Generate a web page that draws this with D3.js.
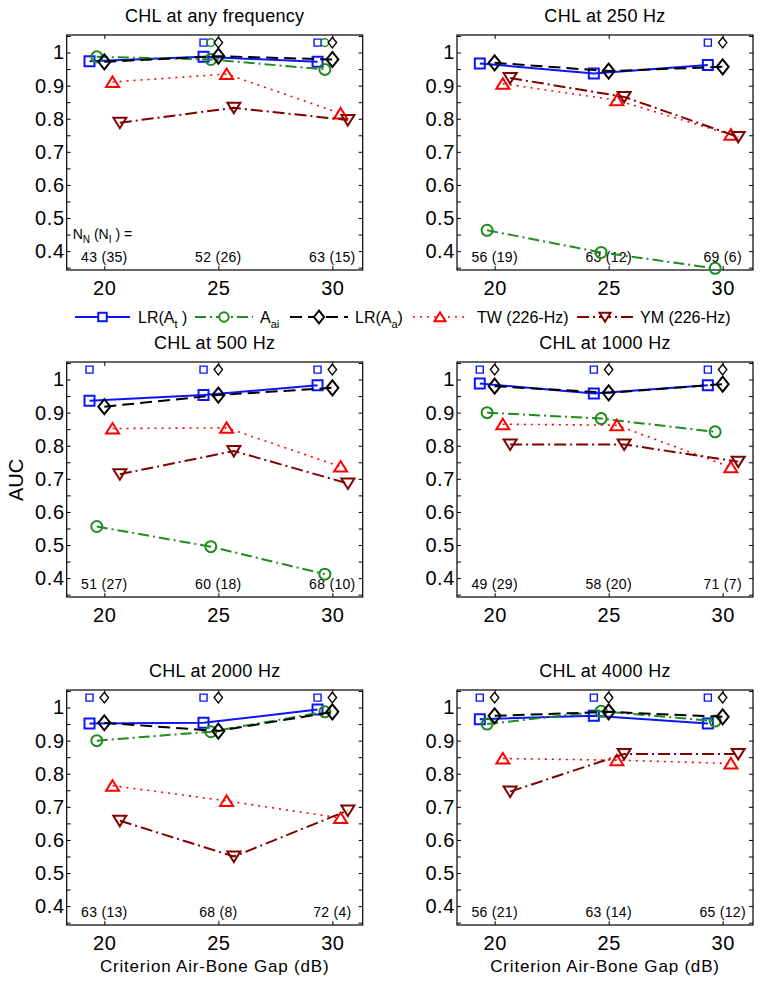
<!DOCTYPE html>
<html>
<head>
<meta charset="utf-8">
<script src="https://cdn.jsdelivr.net/npm/d3@7"></script>
<style>
  body { margin: 0; background: #fff; }
  text { font-family: Arial, "Liberation Sans", Helvetica, sans-serif; fill: #000; }
</style>
</head>
<body>
<svg id="chart" width="762" height="983"></svg>
<script>
// ---- data ----
var criteria = [20, 25, 30];
var panelTitles = ["CHL at any frequency", "CHL at 250 Hz", "CHL at 500 Hz",
                   "CHL at 1000 Hz", "CHL at 2000 Hz", "CHL at 4000 Hz"];

// one row per panel, values at 20, 25, 30 dB
var lrAtValues = [
  [0.974, 0.987, 0.972],
  [0.967, 0.937, 0.962],
  [0.936, 0.953, 0.983],
  [0.988, 0.958, 0.983],
  [0.952, 0.954, 0.994],
  [0.965, 0.975, 0.952]
];
var aaiValues = [
  [0.987, 0.979, 0.949],
  [0.463, 0.396, 0.348],
  [0.556, 0.495, 0.412],
  [0.900, 0.882, 0.842],
  [0.900, 0.927, 0.987],
  [0.950, 0.989, 0.959]
];
var lrAaValues = [
  [0.972, 0.989, 0.979],
  [0.969, 0.944, 0.957],
  [0.918, 0.953, 0.975],
  [0.980, 0.960, 0.986],
  [0.954, 0.929, 0.987],
  [0.975, 0.987, 0.972]
];
var twValues = [
  [0.911, 0.935, 0.816],
  [0.906, 0.856, 0.752],
  [0.852, 0.854, 0.737],
  [0.865, 0.862, 0.735],
  [0.764, 0.718, 0.666],
  [0.846, 0.841, 0.831]
];
var ymValues = [
  [0.788, 0.833, 0.796],
  [0.923, 0.866, 0.745],
  [0.714, 0.784, 0.686],
  [0.804, 0.804, 0.752],
  [0.658, 0.550, 0.689],
  [0.746, 0.860, 0.860]
];

// criteria at which the small markers are drawn above the curves
var sigLrAt = [[25, 30], [30], [20, 25, 30], [20, 25, 30], [20, 25, 30], [20, 25, 30]];
var sigAai  = [[25, 30], [], [], [], [], []];
var sigLrAa = [[25, 30], [30], [25, 30], [20, 25, 30], [20, 25, 30], [20, 25, 30]];
var sigLevel = 1.03;

var countLabels = [
  ["43 (35)", "52 (26)", "63 (15)"],
  ["56 (19)", "63 (12)", "69 (6)"],
  ["51 (27)", "60 (18)", "68 (10)"],
  ["49 (29)", "58 (20)", "71 (7)"],
  ["63 (13)", "68 (8)", "72 (4)"],
  ["56 (21)", "63 (14)", "65 (12)"]
];

var yTicks = [0.35, 0.4, 0.45, 0.5, 0.55, 0.6, 0.65, 0.7, 0.75, 0.8, 0.85, 0.9, 0.95, 1, 1.05];
var yLabels = [0.4, 0.5, 0.6, 0.7, 0.8, 0.9, 1];

// ---- layout ----
var colLeft = [66.7, 457];
var rowTop = [35, 362, 690];
var plotW = 296, plotH = 235;

var svg = d3.select("#chart");

var x = d3.scaleLinear().domain([18.35, 31.33]).range([0, plotW]);
var y = d3.scaleLinear().domain([0.343, 1.053]).range([plotH, 0]);

/* marker shapes */
function markerPath(kind, k) {
  k = k || 1;
  if (kind === "square") { var s = 5 * k; return "M" + -s + "," + -s + "h" + 2 * s + "v" + 2 * s + "h" + -2 * s + "Z"; }
  if (kind === "circle") { var r = 5.5 * k; return "M" + -r + ",0a" + r + "," + r + " 0 1,0 " + 2 * r + ",0a" + r + "," + r + " 0 1,0 " + -2 * r + ",0Z"; }
  if (kind === "diamond") { return "M0," + -7.5 * k + "L" + 6 * k + ",0L0," + 7.5 * k + "L" + -6 * k + ",0Z"; }
  if (kind === "up") { return "M0," + -5.5 * k + "L" + 6.5 * k + "," + 5 * k + "L" + -6.5 * k + "," + 5 * k + "Z"; }
  if (kind === "down") { return "M0," + 5.5 * k + "L" + 6.5 * k + "," + -5 * k + "L" + -6.5 * k + "," + -5 * k + "Z"; }
}

var series = [
  { values: lrAtValues, sig: sigLrAt, offset: -0.65, color: "#0a14ff", dash: null,          width: 2,   marker: "square" },
  { values: aaiValues,  sig: sigAai,  offset: -0.33, color: "#1e8c1e", dash: "11,4,2,4",    width: 2,   marker: "circle" },
  { values: lrAaValues, sig: sigLrAa, offset: 0,     color: "#000000", dash: "12,6",        width: 2,   marker: "diamond" },
  { values: twValues,   sig: null,    offset: 0.36,  color: "#ff0000", dash: "2,5",         width: 1.6, marker: "up" },
  { values: ymValues,   sig: null,    offset: 0.68,  color: "#800000", dash: "12,4,2,4",    width: 2,   marker: "down" }
];

var line = d3.line()
  .x(function (d) { return x(d.c); })
  .y(function (d) { return y(d.v); });

panelTitles.forEach(function (title, i) {
  var col = i % 2, row = Math.floor(i / 2);
  var g = svg.append("g").attr("transform", "translate(" + colLeft[col] + "," + rowTop[row] + ")");

  g.append("text")
    .attr("x", plotW / 2).attr("y", -13)
    .attr("text-anchor", "middle")
    .style("font-size", "18px")
    .style("letter-spacing", "0.3px")
    .text(title);

  /* axes */
  var fmt = d3.format("~g");
  g.append("g").attr("transform", "translate(0," + plotH + ")")
    .call(d3.axisBottom(x).tickValues(criteria).tickSize(-4).tickPadding(11))
    .call(function (a) {
      a.select(".domain").remove();
      a.selectAll("text").style("font-size", "20px").style("letter-spacing", "0.6px");
    });
  g.append("g")
    .call(d3.axisTop(x).tickValues(criteria).tickSize(-4).tickFormat(""))
    .call(function (a) { a.select(".domain").remove(); });
  g.append("g")
    .call(d3.axisLeft(y).tickValues(yTicks).tickSize(-4).tickPadding(2)
      .tickFormat(function (d) { return yLabels.indexOf(d) >= 0 ? fmt(d) : ""; }))
    .call(function (a) {
      a.select(".domain").remove();
      a.selectAll("text").style("font-size", "20px").style("letter-spacing", "0.6px");
    });
  g.append("g").attr("transform", "translate(" + plotW + ",0)")
    .call(d3.axisRight(y).tickValues(yTicks).tickSize(-4).tickFormat(""))
    .call(function (a) { a.select(".domain").remove(); });

  g.append("rect")
    .attr("width", plotW).attr("height", plotH)
    .attr("fill", "none").attr("stroke", "#000").attr("stroke-width", 1.2);

  /* count labels */
  g.selectAll(".count")
    .data(countLabels[i])
    .enter().append("text")
    .attr("class", "count")
    .attr("x", function (d, j) { return x(criteria[j]); })
    .attr("y", plotH - 8)
    .attr("text-anchor", "middle")
    .style("font-size", "14px")
    .style("letter-spacing", "0.3px")
    .text(function (d) { return d; });

  if (i === 0) {
    var nt = g.append("text").attr("x", 6).attr("y", plotH - 31).style("font-size", "14px");
    nt.append("tspan").text("N");
    nt.append("tspan").attr("dy", 4).style("font-size", "10px").text("N");
    nt.append("tspan").attr("dy", -4).text(" (N");
    nt.append("tspan").attr("dy", 4).style("font-size", "10px").text("I");
    nt.append("tspan").attr("dy", -4).text(" ) =");
  }

  /* series */
  series.forEach(function (s) {
    var pts = s.values[i].map(function (v, j) { return { c: criteria[j] + s.offset, v: v }; });
    g.append("path")
      .datum(pts)
      .attr("d", line)
      .attr("fill", "none")
      .attr("stroke", s.color)
      .attr("stroke-width", s.width)
      .attr("stroke-dasharray", s.dash);
    g.selectAll(null)
      .data(pts)
      .enter().append("path")
      .attr("transform", function (d) { return "translate(" + x(d.c) + "," + y(d.v) + ")"; })
      .attr("d", markerPath(s.marker))
      .attr("fill", "none")
      .attr("stroke", s.color)
      .attr("stroke-width", 2);
    if (s.sig) {
      g.selectAll(null)
        .data(s.sig[i])
        .enter().append("path")
        .attr("transform", function (c) { return "translate(" + x(c + s.offset) + "," + y(sigLevel) + ")"; })
        .attr("d", markerPath(s.marker, 0.7))
        .attr("fill", "none")
        .attr("stroke", s.color)
        .attr("stroke-width", 1.4);
    }
  });

  if (row === 2) {
    g.append("text")
      .attr("x", plotW / 2).attr("y", plotH + 47)
      .attr("text-anchor", "middle")
      .style("font-size", "17px")
      .style("letter-spacing", "0.8px")
      .text("Criterion Air-Bone Gap (dB)");
  }
});

svg.append("text")
  .attr("transform", "translate(23,480) rotate(-90)")
  .attr("text-anchor", "middle")
  .style("font-size", "20px")
  .text("AUC");

/* legend */
var legendY = 317;
var legendItems = [
  { s: series[0], x0: 75,  x1: 130, lx: 138, parts: [["LR(A", 0], ["t", 1], [" )", 0]] },
  { s: series[1], x0: 195, x1: 253, lx: 260, parts: [["A", 0], ["ai", 1]] },
  { s: series[2], x0: 290, x1: 348, lx: 355, parts: [["LR(A", 0], ["a", 1], [")", 0]] },
  { s: series[3], x0: 413, x1: 467, lx: 477, parts: [["TW (226-Hz)", 0]] },
  { s: series[4], x0: 577, x1: 633, lx: 640, parts: [["YM (226-Hz)", 0]] }
];
var lg = svg.append("g");
legendItems.forEach(function (it) {
  lg.append("line")
    .attr("x1", it.x0).attr("x2", it.x1)
    .attr("y1", legendY).attr("y2", legendY)
    .attr("stroke", it.s.color)
    .attr("stroke-width", it.s.width)
    .attr("stroke-dasharray", it.s.dash);
  lg.append("path")
    .attr("transform", "translate(" + (it.x0 + it.x1) / 2 + "," + legendY + ")")
    .attr("d", markerPath(it.s.marker, 0.85))
    .attr("fill", "#fff")
    .attr("stroke", it.s.color)
    .attr("stroke-width", 2);
  var t = lg.append("text").attr("x", it.lx).attr("y", legendY + 6).style("font-size", "16px");
  var low = false;
  it.parts.forEach(function (p) {
    var ts = t.append("tspan").text(p[0]);
    if (p[1] && !low) { ts.attr("dy", 5).style("font-size", "11px"); low = true; }
    else if (!p[1] && low) { ts.attr("dy", -5); low = false; }
  });
});
</script>
</body>
</html>
